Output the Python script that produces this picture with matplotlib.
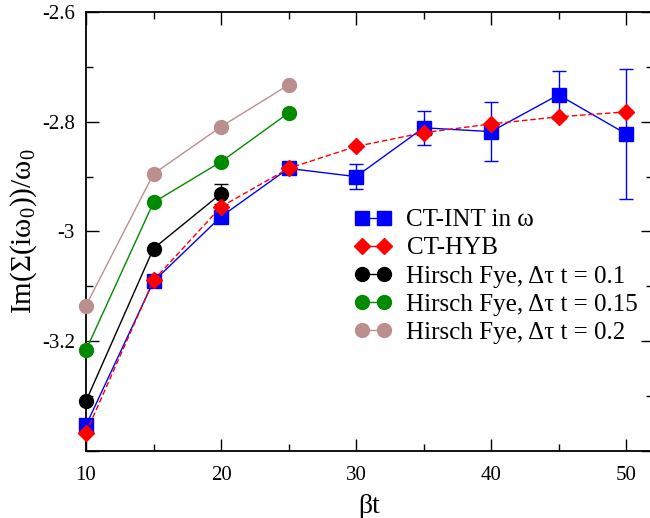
import matplotlib
matplotlib.use("Agg")
import matplotlib.pyplot as plt
from matplotlib.ticker import MultipleLocator
from matplotlib.lines import Line2D

plt.rcParams['font.family'] = ['Liberation Serif', 'DejaVu Serif']
plt.rcParams['mathtext.fontset'] = 'custom'
plt.rcParams['mathtext.rm'] = 'Liberation Serif'
plt.rcParams['mathtext.it'] = 'Liberation Serif:italic'

# Data
ctint_x = [10, 15, 20, 25, 30, 35, 40, 45, 50]
ctint_y = [-3.353, -3.091, -2.973, -2.885, -2.900, -2.811, -2.818, -2.751, -2.822]
ctint_err = [0, 0, 0, 0, 0.023, 0.031, 0.054, 0.044, 0.118]

cthyb_x = [10, 15, 20, 25, 30, 35, 40, 45, 50]
cthyb_y = [-3.367, -3.089, -2.955, -2.885, -2.845, -2.820, -2.804, -2.791, -2.782]

hf01_x = [10, 15, 20]
hf01_y = [-3.309, -3.031, -2.931]
hf01_err = [0, 0, 0.018]

hf015_x = [10, 15, 20, 25]
hf015_y = [-3.216, -2.947, -2.873, -2.784]

hf02_x = [10, 15, 20, 25]
hf02_y = [-3.135, -2.895, -2.809, -2.733]

labels = ['CT-INT in ω', 'CT-HYB', 'Hirsch Fye, Δτ t = 0.1',
          'Hirsch Fye, Δτ t = 0.15', 'Hirsch Fye, Δτ t = 0.2']

fig = plt.figure(figsize=(6.5, 5.18), dpi=100)
ax = fig.add_axes([86/650, 67/518, 567/650, 439/518])

brown = '#bc8f8f'
green = '#008b00'

ax.plot(hf02_x, hf02_y, '-o', color=brown, ms=10, lw=1, zorder=3, clip_on=False)
ax.plot(hf015_x, hf015_y, '-o', color=green, ms=10, lw=1, zorder=3, clip_on=False)
eb = ax.errorbar(hf01_x, hf01_y, yerr=hf01_err, fmt='-o', color='black', ms=10, lw=1,
                 capsize=5, elinewidth=1, zorder=3)
eb.lines[0].set_clip_on(False)
l2, = ax.plot(cthyb_x, cthyb_y, '--D', color='red', ms=8, lw=1, zorder=4,
              dashes=(4, 2), clip_on=False)
eb2 = ax.errorbar(ctint_x, ctint_y, yerr=ctint_err, fmt='-s', color='blue', ms=10, lw=1,
                  capsize=5, elinewidth=1, zorder=3)
eb2.lines[0].set_clip_on(False)

ax.set_xlim(10, 52)
ax.set_ylim(-3.4, -2.6)
ax.xaxis.set_major_locator(MultipleLocator(10))
ax.xaxis.set_minor_locator(MultipleLocator(5))
ax.yaxis.set_minor_locator(MultipleLocator(0.1))
ax.set_yticks([-3.4, -3.2, -3.0, -2.8, -2.6])
ax.set_yticklabels(['', '-3.2', '-3', '-2.8', '-2.6'])
ax.tick_params(which='both', direction='in', top=True, right=True, labelsize=15, width=1)
ax.tick_params(which='major', length=9)
ax.tick_params(axis='x', which='major', pad=11)
ax.tick_params(axis='y', which='major', pad=8)
ax.tick_params(which='minor', length=5)
for s in ax.spines.values():
    s.set_linewidth(1.3)

ax.set_xlabel('βt', fontsize=20, labelpad=6)
ax.set_ylabel('Im(Σ(iω$_0$))/ω$_0$', fontsize=21, labelpad=2)

handles = [
    Line2D([], [], color='blue', marker='s', ms=10, lw=1),
    Line2D([], [], color='red', marker='D', ms=8, lw=1, ls='--', dashes=(4, 2)),
    Line2D([], [], color='black', marker='o', ms=10, lw=1),
    Line2D([], [], color=green, marker='o', ms=10, lw=1),
    Line2D([], [], color=brown, marker='o', ms=10, lw=1),
]
leg = ax.legend(handles, labels, loc='upper left',
                bbox_to_anchor=((354-86)/567, (451-209)/439), frameon=False,
                fontsize=18, numpoints=2, handlelength=1.5, handletextpad=0.6,
                labelspacing=0.22, borderaxespad=0, borderpad=0)

fig.savefig('out.png', dpi=100)
